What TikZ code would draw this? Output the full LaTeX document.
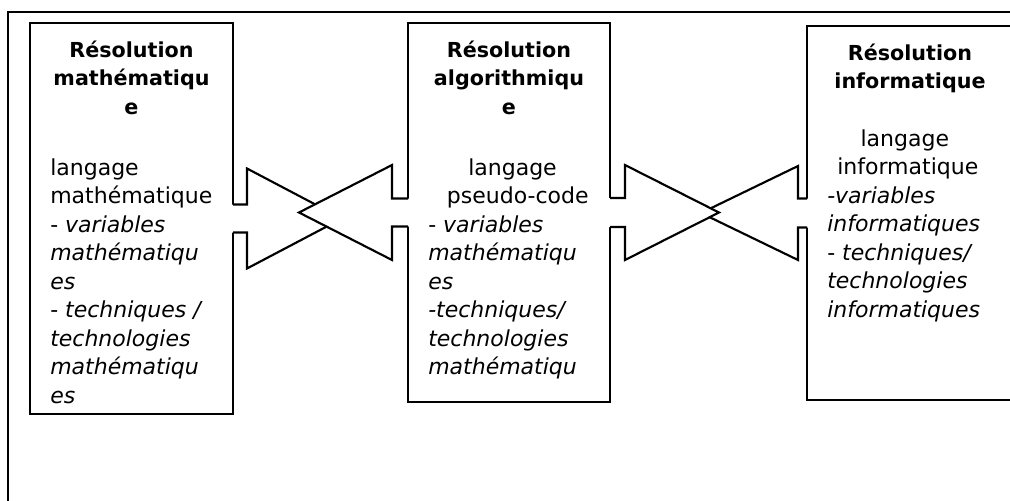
\documentclass[tikz,border=0pt]{standalone}
\usepackage{fontspec}
\setmainfont{DejaVu Sans}
\usetikzlibrary{fit}
\newcommand{\panelfont}{\fontsize{16.5}{21.4}\selectfont}
\newcommand{\headfont}{\fontsize{15.5}{21.4}\selectfont\bfseries}

\begin{document}
\begin{tikzpicture}[x=0.75pt,y=-0.75pt,
	panel/.style={draw, line width=2pt, inner sep=0pt, outer sep=0pt},
	heading/.style={font=\headfont, align=center, anchor=north, inner sep=0pt},
	content/.style={font=\panelfont, align=left, anchor=north west, inner sep=0pt},
	blockline/.style={line width=1.6pt, line join=miter}]
	\useasboundingbox (0,0) rectangle (1010,500);
	\clip (0,0) rectangle (1010,500);
	\draw[line width=1.2pt] (8,12) rectangle (1040,530);

	% the three panels
	\node[panel, fit={(30,23) (233,414)}] (mathbox) {};
	\node[panel, fit={(408,23) (610,402)}] (algobox) {};
	\node[panel, fit={(807,26) (1014,400)}] (infobox) {};

	\node[heading] (mathtitle) at (131.5,37) {\strut Résolution\\mathématiqu\\e};
	\node[heading] (algotitle) at (509,37) {\strut Résolution\\algorithmiqu\\e};
	\node[heading] (infotitle) at (910,40) {\strut Résolution\\informatique};

	\node[content] (mathtext) at (50,155) {\strut langage\\mathématique\\- \textit{variables}\\\textit{mathématiqu}\\\textit{es}\\- \textit{techniques /}\\\textit{technologies}\\\textit{mathématiqu}\\\textit{es}};
	\node[content] (algotext) at (428,155) {\strut\hspace*{30pt}langage\\\hspace*{14pt}pseudo-code\\- \textit{variables}\\\textit{mathématiqu}\\\textit{es}\\\textit{-techniques/}\\\textit{technologies}\\\textit{mathématiqu}};
	\node[content] (infotext) at (827,126) {\strut\hspace*{25pt}langage\\\hspace*{7.5pt}informatique\\\textit{-variables}\\\textit{informatiques}\\- \textit{techniques/}\\\textit{technologies}\\\textit{informatiques}};

	% block arrows
	\fill[white] ([xshift=-2pt]mathbox.east) ++(0,-14) -- ++(16.7,0) -- ++(0,-36) -- ++(95,50) -- ++(-95,50) -- ++(0,-36) -- ++(-16.7,0) -- cycle;
	\draw[blockline] (mathbox.east) ++(0,-14) -- ++(14,0) -- ++(0,-36) -- ++(95,50) -- ++(-95,50) -- ++(0,-36) -- ++(-14,0);

	\fill[white] ([xshift=2pt]algobox.west) ++(0,-14) -- ++(-18.7,0) -- ++(0,-33.5) -- ++(-93,47.5) -- ++(93,47.5) -- ++(0,-33.5) -- ++(18.7,0) -- cycle;
	\draw[blockline] (algobox.west) ++(0,-14) -- ++(-16,0) -- ++(0,-33.5) -- ++(-93,47.5) -- ++(93,47.5) -- ++(0,-33.5) -- ++(16,0);

	\fill[white] ([xshift=2pt]infobox.west) ++(0,-14.5) -- ++(-11.7,0) -- ++(0,-32.5) -- ++(-97,47) -- ++(97,47) -- ++(0,-32.5) -- ++(11.7,0) -- cycle;
	\draw[blockline] (infobox.west) ++(0,-14.5) -- ++(-9,0) -- ++(0,-32.5) -- ++(-97,47) -- ++(97,47) -- ++(0,-32.5) -- ++(9,0);

	\fill[white] ([xshift=-2pt]algobox.east) ++(0,-14.5) -- ++(17.7,0) -- ++(0,-33) -- ++(94,47.5) -- ++(-94,47.5) -- ++(0,-33) -- ++(-17.7,0) -- cycle;
	\draw[blockline] (algobox.east) ++(0,-14.5) -- ++(15,0) -- ++(0,-33) -- ++(94,47.5) -- ++(-94,47.5) -- ++(0,-33) -- ++(-15,0);
\end{tikzpicture}
\end{document}
